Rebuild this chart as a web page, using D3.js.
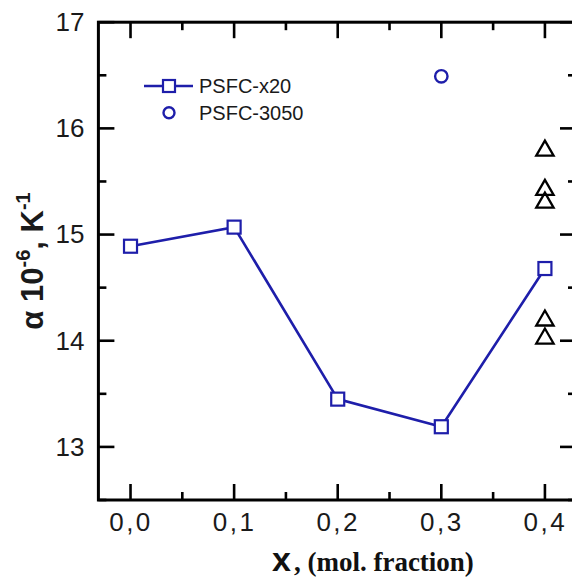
<!DOCTYPE html>
<html><head><meta charset="utf-8">
<script src="https://cdn.jsdelivr.net/npm/d3@7"></script>
<style>body{margin:0;background:#fff}svg{display:block}</style>
</head><body>
<svg id="c" width="572" height="578"></svg>
<script>
// Data
const xValues = [0.0, 0.1, 0.2, 0.3, 0.4];
const psfcX20 = [14.89, 15.07, 13.45, 13.19, 14.68];
const psfc3050X = [0.3];
const psfc3050Y = [16.49];
const triX = [0.4, 0.4, 0.4, 0.4, 0.4];
const triY = [15.80, 15.43, 15.31, 14.20, 14.03];
const xTicks = [0.0, 0.1, 0.2, 0.3, 0.4];
const xTickLabels = ["0,0", "0,1", "0,2", "0,3", "0,4"];
const xMinor = [0.05, 0.15, 0.25, 0.35];
const yTicks = [13, 14, 15, 16, 17];
const yMinor = [12.5, 13.5, 14.5, 15.5, 16.5];
const legendNames = ["PSFC-x20", "PSFC-3050"];

const blue = "#1e1eaa";
const svg = d3.select("#c");
const x = d3.scaleLinear().domain([-0.031, 0.43]).range([98.4, 576]);
const y = d3.scaleLinear().domain([12.5, 17]).range([500, 22.2]);
const X0 = x.range()[0], X1 = x.range()[1], Y0 = y.range()[0], Y1 = y.range()[1];
const FONT = "Arial, 'Liberation Sans', sans-serif";

// tick labels via axes (no tick lines)
svg.append("g").attr("transform", `translate(0,${Y0})`)
  .call(d3.axisBottom(x).tickValues(xTicks).tickSize(0).tickPadding(12).tickFormat((d, i) => xTickLabels[i]))
  .call(g => g.select(".domain").remove())
  .call(g => g.selectAll("text").attr("font-family", FONT).attr("font-size", 26)
    .attr("letter-spacing", 2.5).attr("fill", "#1a1a1a").attr("dy", "0.72em"));
svg.append("g").attr("transform", `translate(${X0},0)`)
  .call(d3.axisLeft(y).tickValues(yTicks).tickSize(0).tickPadding(14).tickFormat(d3.format("d")))
  .call(g => g.select(".domain").remove())
  .call(g => g.selectAll("text").attr("font-family", FONT).attr("font-size", 26).attr("fill", "#1a1a1a"));

// tick marks (inward, on all four sides)
const tk = svg.append("g").attr("stroke", "#000").attr("stroke-width", 2.6);
const xt = xTicks.map(v => ({v, len: 16})).concat(xMinor.map(v => ({v, len: 8})));
const ytk = yTicks.map(v => ({v, len: 16})).concat(yMinor.map(v => ({v, len: 8})));
tk.selectAll(null).data(xt).join("line")
  .attr("x1", d => x(d.v)).attr("x2", d => x(d.v)).attr("y1", Y0).attr("y2", d => Y0 - d.len);
tk.selectAll(null).data(xt).join("line")
  .attr("x1", d => x(d.v)).attr("x2", d => x(d.v)).attr("y1", Y1).attr("y2", d => Y1 + d.len);
tk.selectAll(null).data(ytk).join("line")
  .attr("y1", d => y(d.v)).attr("y2", d => y(d.v)).attr("x1", X0).attr("x2", d => X0 + d.len);
tk.selectAll(null).data(ytk).join("line")
  .attr("y1", d => y(d.v)).attr("y2", d => y(d.v)).attr("x1", X1).attr("x2", d => X1 - d.len);

// frame
svg.append("rect").attr("x", X0).attr("y", Y1).attr("width", X1 - X0).attr("height", Y0 - Y1)
  .attr("fill", "none").attr("stroke", "#000").attr("stroke-width", 3);

// series line
const pts = xValues.map((v, i) => [v, psfcX20[i]]);
svg.append("path").datum(pts)
  .attr("d", d3.line().x(d => x(d[0])).y(d => y(d[1])))
  .attr("fill", "none").attr("stroke", blue).attr("stroke-width", 2.6);
svg.selectAll(null).data(pts).join("rect")
  .attr("x", d => x(d[0]) - 6.5).attr("y", d => y(d[1]) - 6.5)
  .attr("width", 13).attr("height", 13)
  .attr("fill", "#fff").attr("stroke", blue).attr("stroke-width", 2.2);
// circle series
svg.selectAll(null).data(psfc3050X.map((v, i) => [v, psfc3050Y[i]])).join("circle")
  .attr("cx", d => x(d[0])).attr("cy", d => y(d[1])).attr("r", 6.2)
  .attr("fill", "none").attr("stroke", blue).attr("stroke-width", 2.4);
// triangles
const tri = d3.symbol().type(d3.symbolTriangle).size(130);
svg.selectAll(null).data(triX.map((v, i) => [v, triY[i]])).join("path")
  .attr("transform", d => `translate(${x(d[0])},${y(d[1]) + 1})`)
  .attr("d", tri).attr("fill", "none").attr("stroke", "#000").attr("stroke-width", 2.3);

// legend
const lg = svg.append("g");
lg.append("line").attr("x1", 144).attr("x2", 193).attr("y1", 86).attr("y2", 86)
  .attr("stroke", blue).attr("stroke-width", 2.6);
lg.append("rect").attr("x", 163).attr("y", 80).attr("width", 12).attr("height", 12)
  .attr("fill", "#fff").attr("stroke", blue).attr("stroke-width", 2.2);
lg.append("circle").attr("cx", 169).attr("cy", 112.7).attr("r", 5.5)
  .attr("fill", "none").attr("stroke", blue).attr("stroke-width", 2.4);
lg.selectAll("text").data(legendNames).join("text")
  .attr("x", 199).attr("y", (d, i) => 93 + i * 26.5)
  .attr("font-family", FONT).attr("font-size", 20)
  .attr("fill", "#1a1a1a").text(d => d);

// y title
const yt = svg.append("text")
  .attr("transform", "translate(43,261) rotate(-90)")
  .attr("text-anchor", "middle")
  .attr("font-family", FONT)
  .attr("font-weight", "bold").attr("font-size", 31).attr("fill", "#1a1a1a");
yt.append("tspan").text("α 10");
yt.append("tspan").attr("dy", -13).attr("font-size", 20).text("-6");
yt.append("tspan").attr("dy", 13).text(", K");
yt.append("tspan").attr("dy", -13).attr("font-size", 20).text("-1");

// x title
const xtt = svg.append("text").attr("x", 272).attr("y", 571).attr("fill", "#111").attr("font-weight", "bold");
xtt.append("tspan").attr("font-family", FONT).attr("font-size", 34).text("x");
xtt.append("tspan").attr("font-family", "'Liberation Serif', 'Times New Roman', serif").attr("font-size", 27).attr("dx", 3).text(", (mol. fraction)");
</script>
</body></html>
